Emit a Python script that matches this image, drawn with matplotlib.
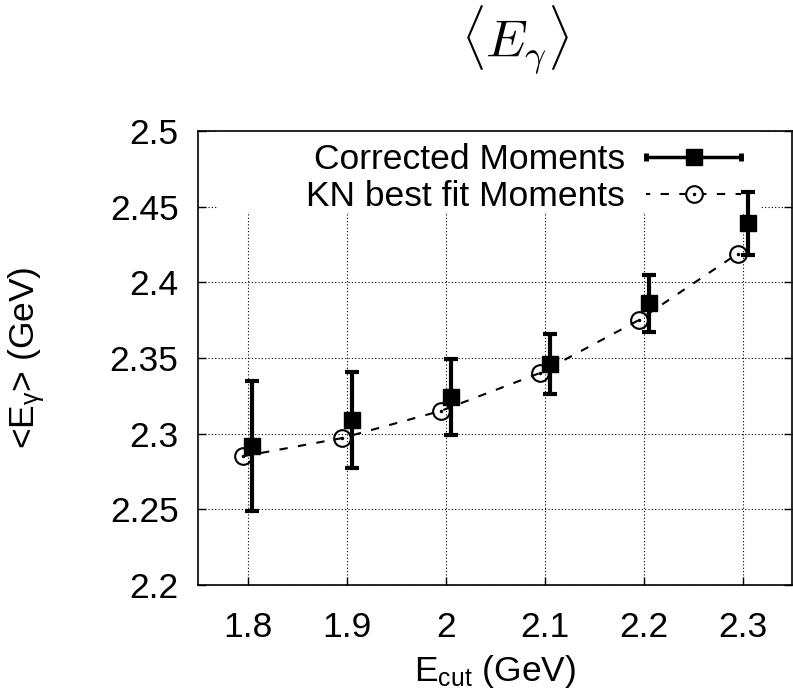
import numpy as np
import matplotlib
matplotlib.use("Agg")
import matplotlib.pyplot as plt
from matplotlib.lines import Line2D
from matplotlib.patches import Rectangle
from matplotlib.legend_handler import HandlerBase
from matplotlib.ticker import FuncFormatter

# data
e_cut = [1.8, 1.9, 2.0, 2.1, 2.2, 2.3]
corrected = [2.292, 2.309, 2.324, 2.346, 2.386, 2.439]
corrected_err = [0.043, 0.032, 0.025, 0.020, 0.019, 0.021]
kn_fit = [2.285, 2.297, 2.315, 2.340, 2.375, 2.419]
x_shift = 0.005   # points are drawn slightly either side of each tick

plt.rcParams['font.family'] = ['Liberation Sans', 'DejaVu Sans']
plt.rcParams['mathtext.fontset'] = 'custom'
plt.rcParams['mathtext.rm'] = 'Liberation Sans'
plt.rcParams['mathtext.it'] = 'Liberation Sans:italic'
plt.rcParams['font.size'] = 25.5


class ErrHandler(HandlerBase):
    def create_artists(self, legend, orig_handle, xdescent, ydescent,
                       width, height, fontsize, trans):
        y = height / 2 - ydescent
        x0, x1 = -xdescent, -xdescent + width
        line = Line2D([x0, x1], [y, y], color='k', lw=2.5)
        caps = Line2D([x0, x1], [y, y], ls='none', marker='|', ms=6,
                      mew=3.5, color='k')
        sq = Line2D([(x0 + x1) / 2], [y], ls='none', marker='s', ms=11.5,
                    color='k')
        for a in (line, caps, sq):
            a.set_transform(trans)
        return [line, caps, sq]


class FitHandler(HandlerBase):
    def create_artists(self, legend, orig_handle, xdescent, ydescent,
                       width, height, fontsize, trans):
        y = height / 2 - ydescent
        x0, x1 = -xdescent, -xdescent + width
        line = Line2D([x0, x1], [y, y], color='k', lw=1.5,
                      ls=(2, (4, 5)))
        circ = Line2D([(x0 + x1) / 2], [y], ls='none', marker='o', ms=12,
                      mfc='white', mec='k', mew=1.5)
        dot = Line2D([(x0 + x1) / 2], [y], ls='none', marker='o', ms=1.5,
                     color='k')
        for a in (line, circ, dot):
            a.set_transform(trans)
        return [line, circ, dot]


fig = plt.figure(figsize=(7.93, 7.0), dpi=100)
ax = fig.add_axes([0.2497, 0.1643, 0.7493, 0.6486])

xs = np.array(e_cut)
ax.plot(xs - x_shift, kn_fit, color='k', lw=1.5, ls=(0, (4, 5)), zorder=3)
ax.plot(xs - x_shift, kn_fit, ls='none', marker='o', ms=12, mfc='none',
        mec='k', mew=1.5, zorder=4)
ax.plot(xs - x_shift, kn_fit, ls='none', marker='o', ms=1.5, color='k',
        zorder=4)
ax.errorbar(xs + x_shift, corrected, yerr=corrected_err, fmt='s', color='k',
            ms=11.5, elinewidth=3, capsize=5, capthick=3, zorder=5)

ax.set_xlim(1.75, 2.35)
ax.set_ylim(2.2, 2.5)
ax.set_xticks(e_cut)
ax.set_yticks(np.arange(2.2, 2.501, 0.05))
fmt = FuncFormatter(lambda v, p: '%g' % round(v, 3))
ax.xaxis.set_major_formatter(fmt)
ax.yaxis.set_major_formatter(fmt)
ax.tick_params(direction='in', length=6, width=1, top=True, right=True)
ax.tick_params(axis='x', pad=19)
ax.tick_params(axis='y', pad=14)
ax.grid(True, color='k', lw=0.8, ls=(0, (1, 2)), zorder=0)
ax.set_axisbelow(True)
for s in ax.spines.values():
    s.set_linewidth(1.2)

ax.set_xlabel(r'E$_{\mathrm{cut}}$ (GeV)', labelpad=6)
ax.set_ylabel(r'<E$_{\mathrm{\gamma}}$> (GeV)', labelpad=45)

# white key box hiding the grid, as gnuplot does
ax.add_patch(Rectangle((0.032, 0.821), 0.915, 0.179, transform=ax.transAxes,
                       facecolor='white', edgecolor='none', zorder=2))

h1 = Line2D([], [])
h2 = Line2D([], [])
leg = ax.legend([h1, h2], ['Corrected Moments', 'KN best fit Moments'],
                handler_map={h1: ErrHandler(), h2: FitHandler()},
                loc='upper right', bbox_to_anchor=(0.9234, 0.985),
                markerfirst=False, frameon=False,
                borderpad=0.15, borderaxespad=0, handlelength=2.7,
                handletextpad=0.58, labelspacing=0.12)
leg.set_zorder(2.5)

fig.text(0.649, 0.943, r'$\langle E_\gamma \rangle$', fontsize=38,
         math_fontfamily='cm', ha='center', va='center')

fig.savefig('out.png', dpi=100)
